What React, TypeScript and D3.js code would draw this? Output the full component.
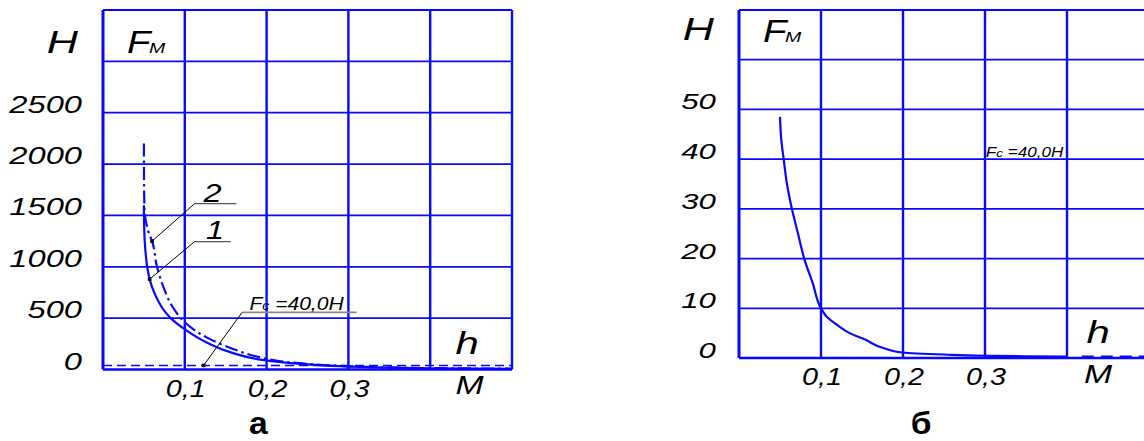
import React from 'react';
import * as d3 from 'd3';

// grid / ticks
const hGrid = [0, 0.1, 0.2, 0.3, 0.4, 0.5];
const hTicks = [0.1, 0.2, 0.3];
const leftGrid = [0, 500, 1000, 1500, 2000, 2500, 3000, 3500];
const leftTicks = [0, 500, 1000, 1500, 2000, 2500];
const rightGrid = [0, 10, 20, 30, 40, 50, 60, 70];
const rightTicks = [0, 10, 20, 30, 40, 50];

// panel a: curve 1 (solid) and curve 2 (dash-dot), [h, F]
const curve1: [number, number][] = [
  [0.05, 1600], [0.0503, 1400], [0.051, 1250], [0.0525, 1100], [0.054, 1000],
  [0.057, 880], [0.062, 760], [0.068, 660], [0.075, 570], [0.084, 490],
  [0.1, 390], [0.126, 266], [0.159, 160], [0.2, 88], [0.25, 50],
  [0.3, 28], [0.35, 18], [0.4, 12], [0.45, 8], [0.5, 5],
];
const curve2: [number, number][] = [
  [0.05, 2200], [0.0502, 1800], [0.0508, 1550], [0.053, 1420], [0.056, 1330],
  [0.06, 1250], [0.066, 1000], [0.075, 780], [0.085, 610], [0.1, 460],
  [0.126, 315], [0.159, 200], [0.191, 120], [0.213, 85], [0.25, 55],
  [0.3, 32], [0.35, 20], [0.4, 14], [0.45, 10], [0.5, 8],
];
const fcLine: [number, number][] = [[0, 40], [0.5, 40]];

// panel б
const curveB: [number, number][] = [
  [0.05, 48.5], [0.0515, 44], [0.0545, 40], [0.0585, 35], [0.0645, 30],
  [0.072, 25], [0.0795, 20], [0.09, 15], [0.1, 10], [0.107, 8.3],
  [0.12, 6.6], [0.135, 5], [0.155, 3.6], [0.176, 2], [0.2, 1.1],
  [0.25, 0.7], [0.3, 0.45], [0.35, 0.35], [0.4, 0.3],
];
const tailB: [number, number][] = [[0.418, 0.28], [0.5, 0.28]];

const BLUE = '#0808ff';
const FONT = 'Liberation Sans, Arial, sans-serif';
const fmt = (d: number) => String(d).replace('.', ',');

function T({ x, y, size, anchor = 'start', sx = 1.35, bold = false, italic = true, fill = '#000', children }: any) {
  return (
    <text
      transform={`translate(${x},${y}) scale(${sx},1)`}
      fontSize={size}
      textAnchor={anchor}
      fontStyle={italic ? 'italic' : 'normal'}
      fontWeight={bold ? 'bold' : 'normal'}
      fontFamily={FONT}
      fill={fill}
    >
      {children}
    </text>
  );
}

function Grid({ x, y, hs, vs }: any) {
  const [x0, x1] = x.range();
  const [y0, y1] = y.range();
  return (
    <g>
      {vs.map((v: number) => (
        <line key={'h' + v} x1={x0} x2={x1} y1={y(v)} y2={y(v)} stroke={BLUE}
          strokeWidth={v === 0 ? 2.6 : 1.8} />
      ))}
      {hs.map((h: number) => (
        <line key={'v' + h} x1={x(h)} x2={x(h)} y1={y0} y2={y1} stroke={BLUE}
          strokeWidth={h === 0 ? 3 : 2.4} />
      ))}
    </g>
  );
}

export default function App() {
  const xL = d3.scaleLinear().domain([0, 0.5]).range([103, 512]);
  const yL = d3.scaleLinear().domain([0, 3500]).range([369.5, 10]);
  const xR = d3.scaleLinear().domain([0, 0.5]).range([739, 1149]);
  const yR = d3.scaleLinear().domain([0, 70]).range([358, 10]);

  const lineL = d3.line<[number, number]>().x(d => xL(d[0])).y(d => yL(d[1])).curve(d3.curveMonotoneY);
  const lineLs = d3.line<[number, number]>().x(d => xL(d[0])).y(d => yL(d[1]));
  const lineR = d3.line<[number, number]>().x(d => xR(d[0])).y(d => yR(d[1])).curve(d3.curveMonotoneY);
  const lineRs = d3.line<[number, number]>().x(d => xR(d[0])).y(d => yR(d[1]));

  // annotation anchors (data units)
  const dot2 = curve2[5];
  const dot1 = curve1[5];
  const fcDot: [number, number] = [0.123, 40];

  return (
    <svg width={1144} height={441} style={{ position: 'absolute', left: 0, top: 0, background: '#fff' }}>
      {/* ---------- panel а ---------- */}
      <Grid x={xL} y={yL} hs={hGrid} vs={leftGrid} />
      <path d={lineLs(fcLine) || ''} fill="none" stroke={BLUE} strokeWidth={1.5} strokeDasharray="9,5" />
      <path d={lineL(curve1) || ''} fill="none" stroke={BLUE} strokeWidth={2.2} />
      <path d={lineL(curve2) || ''} fill="none" stroke={BLUE} strokeWidth={2.2} strokeDasharray="13,4,2.5,4" />

      {leftTicks.map(v => (
        <T key={v} x={xL(0) - 21} y={yL(v)} size={23} anchor="end" sx={1.42}>{v}</T>
      ))}
      {hTicks.map(h => (
        <T key={h} x={xL(h) + 1} y={yL(0) + 27} size={23} anchor="middle" sx={1.25}>{fmt(h)}</T>
      ))}
      <T x={xL(0) - 25} y={53} size={32} anchor="end">Н</T>
      <T x={xL(0) + 24} y={53} size={32} sx={1.2}>F</T>
      <T x={xL(0) + 46} y={53} size={15} sx={1.3}>М</T>
      <T x={xL(0.445)} y={yL(0) - 16} size={31} anchor="middle">h</T>
      <T x={xL(0.448)} y={yL(0) + 24} size={25} anchor="middle">М</T>
      <T x={xL(0.19)} y={434} size={32} anchor="middle" bold italic={false} sx={1.05}>а</T>

      {/* labels 1, 2 and Fc */}
      <T x={xL(0.134)} y={yL(1630)} size={25} anchor="middle" sx={1.3}>2</T>
      <line x1={xL(0.112)} x2={xL(0.163)} y1={yL(1615)} y2={yL(1615)} stroke="#555" strokeWidth={1.2} />
      <line x1={xL(0.112)} y1={yL(1615)} x2={xL(dot2[0])} y2={yL(dot2[1])} stroke="#000" strokeWidth={1} />
      <rect x={xL(dot2[0]) - 1.8} y={yL(dot2[1]) - 1.8} width={3.6} height={3.6} fill="#000" />

      <T x={xL(0.137)} y={yL(1268)} size={25} anchor="middle" sx={1.3}>1</T>
      <line x1={xL(0.112)} x2={xL(0.156)} y1={yL(1245)} y2={yL(1245)} stroke="#555" strokeWidth={1.2} />
      <line x1={xL(0.112)} y1={yL(1245)} x2={xL(dot1[0])} y2={yL(dot1[1])} stroke="#000" strokeWidth={1} />
      <rect x={xL(dot1[0]) - 1.8} y={yL(dot1[1]) - 1.8} width={3.6} height={3.6} fill="#000" />

      <T x={xL(0.179)} y={yL(575)} size={18} sx={1.17}>F<tspan fontSize={12}>c</tspan> =40,0Н</T>
      <line x1={xL(0.17)} x2={xL(0.31)} y1={yL(556)} y2={yL(556)} stroke="#888" strokeWidth={1.6} />
      <line x1={xL(0.17)} y1={yL(556)} x2={xL(fcDot[0])} y2={yL(fcDot[1])} stroke="#000" strokeWidth={1} />
      <rect x={xL(fcDot[0]) - 1.8} y={yL(fcDot[1]) - 1.8} width={3.6} height={3.6} fill="#000" />

      {/* ---------- panel б ---------- */}
      <Grid x={xR} y={yR} hs={hGrid} vs={rightGrid} />
      <path d={lineR(curveB) || ''} fill="none" stroke={BLUE} strokeWidth={2.2} />
      <path d={lineRs(tailB) || ''} fill="none" stroke={BLUE} strokeWidth={2} strokeDasharray="12,7" />

      {rightTicks.map(v => (
        <T key={v} x={xR(0) - 23} y={yR(v)} size={22} anchor="end" sx={1.42}>{v}</T>
      ))}
      {hTicks.map(h => (
        <T key={h} x={xR(h) + 1} y={yR(0) + 27} size={23} anchor="middle" sx={1.25}>{fmt(h)}</T>
      ))}
      <T x={xR(0) - 25} y={40} size={32} anchor="end">Н</T>
      <T x={xR(0) + 24} y={42} size={32} sx={1.2}>F</T>
      <T x={xR(0) + 46} y={42} size={15} sx={1.3}>М</T>
      <T x={xR(0.438)} y={yR(0) - 15} size={31} anchor="middle">h</T>
      <T x={xR(0.438)} y={yR(0) + 25} size={25} anchor="middle">М</T>
      <T x={921} y={434} size={32} anchor="middle" bold italic={false} sx={1.05}>б</T>

      <T x={xR(0.301)} y={yR(40) - 2} size={14} sx={1.22}>F<tspan fontSize={11}>c</tspan> =40,0Н</T>
    </svg>
  );
}
